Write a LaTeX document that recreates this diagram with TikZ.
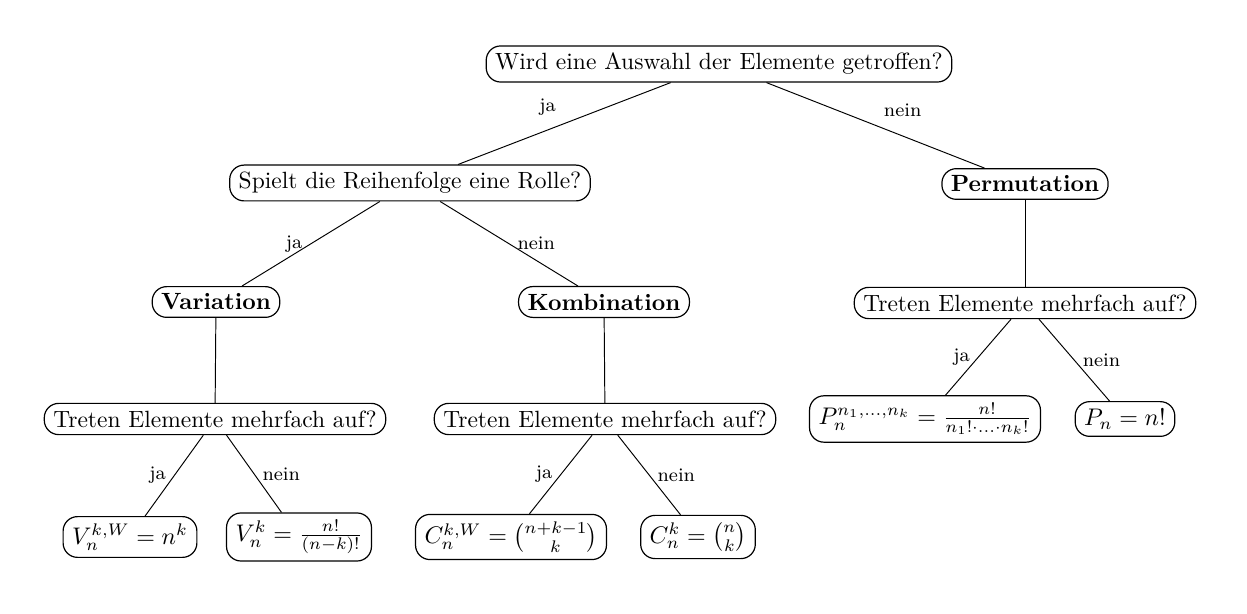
\documentclass[tikz,border=0pt]{standalone}
\usepackage{amsmath}
\begin{document}
\begin{tikzpicture}[x=0.01464cm,y=-0.01464cm,
  box/.style={draw,rounded corners=6pt,inner xsep=3.75pt,inner ysep=3pt,line width=0.5pt},
  tbox/.style={box,font=\fontsize{9.78}{12}\selectfont},
  lbl/.style={font=\footnotesize}]
\useasboundingbox (0,0) rectangle (1247,614);
\node[tbox] (root) at (719,64) {Wird eine Auswahl der Elemente getroffen?};
\node[tbox] (spiel) at (410,183) {Spielt die Reihenfolge eine Rolle?};
\node[tbox] (perm) at (1025,184) {\textbf{Permutation}};
\node[tbox] (var) at (216,302) {\textbf{Variation}};
\node[tbox] (kom) at (604,302) {\textbf{Kombination}};
\node[tbox] (tr3) at (1025,303) {Treten Elemente mehrfach auf?};
\node[tbox] (tr1) at (215,419) {Treten Elemente mehrfach auf?};
\node[tbox] (tr2) at (605,419) {Treten Elemente mehrfach auf?};
\node[box] (v1) at (130,537) {$V_n^{k,W}=n^k$};
\node[box] (v2) at (299,537) {$V_n^{k}=\frac{n!}{(n-k)!}$};
\node[box] (c1) at (511,537) {$C_n^{k,W}=\binom{n+k-1}{k}$};
\node[box] (c2) at (698,537) {$C_n^{k}=\binom{n}{k}$};
\node[box] (p1) at (925,419) {$P_n^{n_1,\dots,n_k}=\frac{n!}{n_1!\cdot\ldots\cdot n_k!}$};
\node[box] (p2) at (1125,419) {$P_n=n!$};
\draw (root) -- node[lbl,above left] {ja} (spiel);
\draw (root) -- node[lbl,above right] {nein} (perm);
\draw (spiel) -- node[lbl,left] {ja} (var);
\draw (spiel) -- node[lbl,right] {nein} (kom);
\draw (var) -- (tr1);
\draw (kom) -- (tr2);
\draw (perm) -- (tr3);
\draw (tr1) -- node[lbl,left] {ja} (v1);
\draw (tr1) -- node[lbl,right] {nein} (v2);
\draw (tr2) -- node[lbl,left] {ja} (c1);
\draw (tr2) -- node[lbl,right] {nein} (c2);
\draw (tr3) -- node[lbl,left] {ja} (p1);
\draw (tr3) -- node[lbl,right] {nein} (p2);
\end{tikzpicture}
\end{document}
